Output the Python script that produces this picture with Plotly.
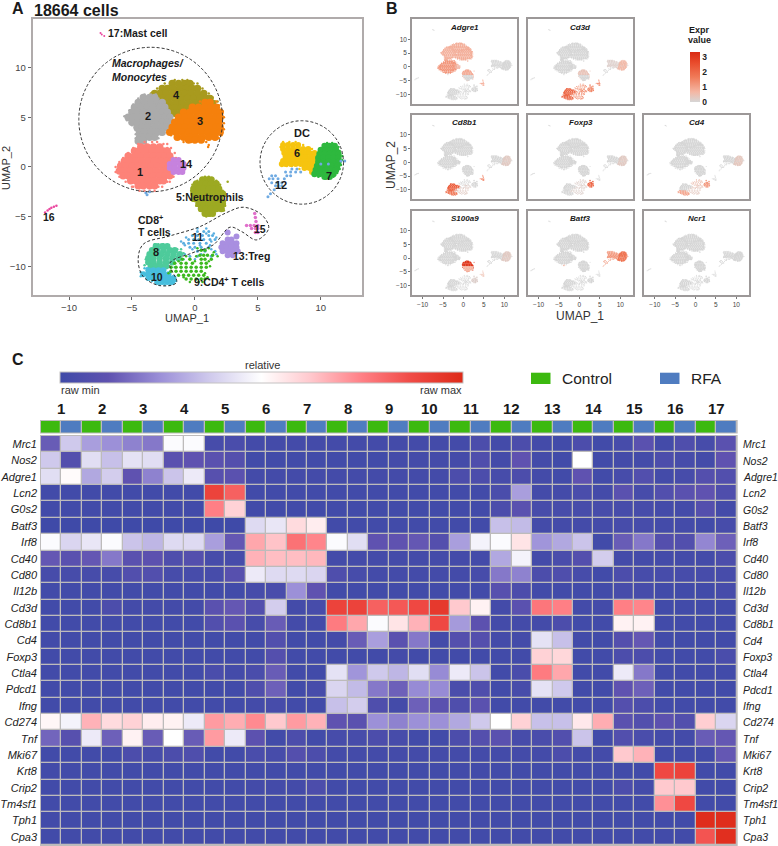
"""UMAP panels and marker gene heatmap."""
import plotly.graph_objects as go

W, H = 778, 846
FONT = "Liberation Sans"

# UMAP cells: {UMAP_2: [UMAP_1, ...]}
CL4 = {8.4: [-1.8, -1.3, -0.8, -0.4], 7.9: [-2.6, -2.2, -1.7, -1.2, -0.7, -0.2, 0.2],
       7.4: [-3.2, -2.8, -2.3, -1.8, -1.3, -0.8, -0.3, 0.2, 0.7],
       6.9: [-3.5, -3.1, -2.6, -2.1, -1.6, -1.1, -0.6, -0.1, 0.4, 0.9, 1.2],
       6.4: [-2.5, -2.0, -1.5, -1.0, -0.5, 0.0, 0.5, 1.0, 1.4], 5.9: [-2.1, -1.6, -1.1, -0.6, -0.2],
       5.4: [-2.0, -1.6, -1.2]}
CL2 = {7.0: [-4.1, -3.6, -3.2], 6.5: [-4.5, -4.0, -3.5, -3.0, -2.6], 6.0: [-4.8, -4.3, -3.8, -3.3, -2.8, -2.4],
       5.5: [-5.0, -4.6, -4.1, -3.6, -3.1, -2.6, -2.2], 5.0: [-5.3, -4.9, -4.4, -3.9, -3.4, -2.9, -2.4, -2.0],
       4.5: [-5.0, -4.6, -4.1, -3.6, -3.1, -2.6, -2.2, -1.9], 4.0: [-4.6, -4.2, -3.7, -3.2, -2.7, -2.3],
       3.5: [-4.4, -4.0, -3.5, -3.0, -2.6], 3.0: [-4.4, -4.0, -3.6, -3.2], 2.6: [-4.5, -4.1]}
CL3 = {6.5: [0.8, 1.2], 6.0: [-0.2, 0.3, 0.8, 1.3, 1.7], 5.5: [-0.9, -0.4, 0.1, 0.6, 1.1, 1.6, 2.0],
       5.0: [-1.3, -0.8, -0.3, 0.2, 0.7, 1.2, 1.7, 2.0], 4.5: [-1.6, -1.1, -0.6, -0.1, 0.4, 0.9, 1.4, 1.9],
       4.0: [-1.8, -1.3, -0.8, -0.3, 0.2, 0.7, 1.2, 1.7, 2.0], 3.5: [-2.0, -1.5, -1.0, -0.5, 0.0, 0.5, 1.0, 1.5, 2.0],
       3.0: [-1.4, -0.9, -0.4, 0.1, 0.6, 1.1, 1.6], 2.7: [-0.5, 0.0, 0.5]}
CL1 = {2.0: [-4.3, -3.8, -3.3, -2.8], 1.6: [-4.8, -4.4, -3.9, -3.4, -2.9, -2.5, -2.2],
       1.1: [-5.3, -4.8, -4.3, -3.8, -3.3, -2.8, -2.4, -2.0], 0.6: [-5.6, -5.2, -4.7, -4.2, -3.7, -3.2, -2.7, -2.3, -1.9],
       0.1: [-5.9, -5.5, -5.0, -4.5, -4.0, -3.5, -3.0, -2.5, -2.1, -1.8],
       -0.4: [-6.0, -5.6, -5.1, -4.6, -4.1, -3.6, -3.1, -2.6, -2.2, -1.8],
       -0.9: [-5.7, -5.3, -4.8, -4.3, -3.8, -3.3, -2.8, -2.4, -2.0], -1.4: [-5.1, -4.7, -4.2, -3.7, -3.2, -2.8, -2.5],
       -1.9: [-4.5, -4.1, -3.6, -3.2]}
CL14 = {0.7: [-1.7, -1.3], 0.3: [-2.0, -1.6, -1.2, -0.9], -0.1: [-2.0, -1.6, -1.2, -0.9], -0.5: [-1.7, -1.3, -1.0]}
CL5A = {-1.3: [0.6, 1.0, 1.3], -1.7: [0.1, 0.5, 0.9, 1.3, 1.7], -2.2: [-0.1, 0.3, 0.7, 1.1, 1.5, 1.9],
        -2.7: [-0.1, 0.3, 0.7, 1.1, 1.5, 1.9, 2.2]}
CL5B = {-3.2: [0.0, 0.4, 0.8, 1.2, 1.6, 2.0], -3.7: [0.3, 0.7, 1.1, 1.5, 1.9, 2.2],
        -4.2: [0.5, 0.9, 1.3, 1.7, 2.1], -4.7: [0.8, 1.1, 1.4]}
CL6 = {2.2: [7.0, 7.4, 7.8, 8.2], 1.8: [7.0, 7.4, 7.8, 8.2, 8.6, 9.0], 1.4: [7.1, 7.5, 7.9, 8.3, 8.7, 9.1, 9.5, 10.0],
       1.0: [7.2, 7.6, 8.0, 8.4, 8.8, 9.2, 9.6, 10.0], 0.6: [7.0, 7.4, 7.8, 8.2, 8.6, 9.0, 9.4, 9.8],
       0.3: [6.9, 7.2, 7.6, 8.0, 8.4, 8.8, 9.2, 9.6], -0.1: [8.7, 9.1, 9.5], -0.5: [9.3, 9.7]}
CL7 = {2.1: [10.3, 10.7, 11.1], 1.7: [10.0, 10.4, 10.8, 11.2], 1.3: [9.9, 10.3, 10.7, 11.1, 11.4],
       0.9: [9.8, 10.2, 10.6, 11.0, 11.4], 0.5: [9.8, 10.2, 10.6, 11.0, 11.4], 0.1: [9.7, 10.1, 10.5, 10.9, 11.3],
       -0.3: [9.6, 10.0, 10.4, 10.8, 11.2], -0.7: [9.5, 9.9, 10.3, 10.7, 11.0], -1.0: [10.3, 10.7]}
CL12 = {-3.0: [5.8], -2.7: [6.0], -2.3: [6.3], -1.9: [6.4, 6.6, 6.9], -1.6: [6.1, 6.5, 6.9],
        -1.2: [5.9, 6.2, 6.6, 7.1], -0.9: [6.1, 6.4, 7.3, 7.6], -0.5: [7.2, 7.6, 8.0, 8.4], -0.2: [7.7, 8.1],
        0.3: [10.0, 10.6], 0.6: [11.6, 11.9], -2.5: [-3.6], -2.6: [-3.9], -2.8: [-3.8]}
CL16 = {-4.6: [-11.9], -4.4: [-11.7], -4.25: [-11.55], -4.1: [-11.4], -4.0: [-11.2], -3.9: [-11.0]}
CL17 = {13.5: [-7.5], 13.35: [-7.4], 13.2: [-7.2]}
CL15 = {-4.7: [4.75], -5.1: [4.8], -5.5: [4.85], -5.9: [4.1, 4.4, 4.7, 5.0], -6.2: [4.5, 4.8, 5.0], -6.6: [4.8, 5.0]}
CL13 = {-6.6: [2.6], -7.0: [3.3], -7.3: [2.6, 2.9], -7.7: [2.2, 2.6, 3.0, 3.3], -8.1: [2.1, 2.5, 2.9, 3.3],
        -8.5: [2.2, 2.6, 3.0, 3.4], -8.9: [2.6, 3.0]}
CL11 = {-6.5: [0.2, 0.7, 1.1], -6.9: [-0.2, 0.2, 0.6, 1.1, 1.4], -7.3: [-0.5, -0.1, 0.3, 0.7, 1.2, 1.6],
        -7.7: [-0.9, -0.5, -0.1, 0.4, 0.9], -8.1: [-0.4, 0.0, 0.5, 1.1], -8.5: [0.2, 0.8, 1.6], -9.0: [-0.4, 0.2, 1.3]}
CL8 = {-8.0: [-3.1, -2.6, -2.2], -8.4: [-3.4, -3.0, -2.5, -2.0, -1.6], -8.8: [-3.6, -3.2, -2.7, -2.2, -1.7, -1.2],
       -9.2: [-3.7, -3.3, -2.8, -2.3, -1.8, -1.3], -9.6: [-3.7, -3.3, -2.8, -2.3, -1.8],
       -10.0: [-3.5, -3.1, -2.7, -2.3], -10.3: [-3.3, -2.9]}
CL10 = {-10.4: [-3.7, -3.3, -2.9, -2.5], -10.8: [-4.1, -3.7, -3.3, -2.9, -2.5, -2.1],
        -11.2: [-3.7, -3.3, -2.9, -2.5, -2.1, -1.7], -11.6: [-3.0, -2.6, -2.2, -1.8]}
CL9 = {-8.4: [0.5, 0.8], -8.9: [0.4, 0.7, 1.0, 1.4], -9.3: [-1.0, -0.4, 0.5, 0.8, 1.3],
       -9.7: [-1.6, -1.1, -0.7, -0.2, 0.5, 0.9], -10.1: [-1.9, -1.5, -1.1, -0.7, -0.3, 0.1, 0.5, 0.9],
       -10.5: [-1.9, -1.5, -1.1, -0.7, -0.3, 0.1, 0.5], -10.9: [-1.3, -0.9, -0.5, -0.1, 0.3, 0.7],
       -11.3: [-0.7, -0.3, 0.1, 0.5, 0.8]}

# loose cells along the cluster edges
F1 = {2.5: [-4.0, -3.4, -3.0], 2.3: [-4.5, -2.5, -2.2], 1.9: [-4.9, -2.2, -1.9], 1.4: [-5.3, -2.0, -1.6],
      0.9: [-5.7, -1.7, -1.5], 0.5: [-6.0, -1.6], 0.0: [-6.3, -1.5], -0.5: [-6.3, -1.5], -1.0: [-6.0, -1.7],
      -1.5: [-5.5, -2.2, -2.0], -2.0: [-5.0, -4.9, -2.9, -2.6], -2.4: [-4.4, -4.0, -3.6, -3.2]}
F2 = {7.3: [-4.0, -3.5, -3.1], 6.9: [-4.5, -2.9], 6.3: [-4.9], 5.7: [-5.2], 5.1: [-5.6], 4.7: [-5.4], 4.2: [-5.0],
      3.7: [-4.7], 3.3: [-4.7, -2.7], 2.9: [-4.7, -2.9], 2.4: [-4.6, -4.2, -3.9]}
F4 = {8.75: [-1.6, -1.0, -0.6], 8.4: [-2.4, -0.1, 0.2], 7.9: [-3.0, 0.6], 7.4: [-3.5, 1.1], 7.0: [-3.8, 1.4],
      6.6: [1.6, 1.8], 6.2: [1.6]}
F3 = {6.6: [0.4, 1.7], 6.2: [1.9], 5.6: [2.2], 5.0: [2.3], 4.4: [2.3], 3.8: [2.3], 3.2: [2.1, -1.9],
      2.9: [-1.5, 1.9], 2.5: [-0.9, -0.3, 0.4, 0.9], 2.2: [1.1], 2.0: [1.05]}
F5 = {-1.0: [0.8, 1.1], -1.4: [0.2, 1.7], -1.8: [-0.2, 2.0], -2.4: [-0.3, 2.2], -2.9: [2.4], -3.4: [-0.2, 2.4],
      -3.9: [0.1, 2.4], -4.4: [0.4, 2.3], -4.9: [0.9, 1.2], -5.0: [0.9], -1.5: [2.6]}
F6 = {2.5: [7.0, 7.5, 8.0], 2.2: [8.6], 1.8: [9.3], 2.0: [6.8], 0.1: [6.9, 7.3, 7.7], 0.2: [8.7], -0.2: [8.3],
      -0.7: [9.5, 9.8], 1.6: [9.9]}
F7 = {2.4: [10.5, 10.9], 2.0: [11.4], 1.6: [11.5], 1.1: [11.7], 0.7: [11.7], 0.2: [11.6], -0.2: [11.5], -0.6: [11.3],
      -1.0: [9.8, 11.0], -1.2: [10.4]}
F8 = {-7.8: [-3.2, -2.9, -2.5], -8.3: [-1.4, -1.1], -8.7: [-0.9], -9.3: [-3.9, -0.9], -9.9: [-4.0], -10.1: [-1.9, -1.6]}
F10 = {-10.2: [-4.0, -3.8], -10.6: [-4.3], -11.0: [-4.3, -1.7], -11.5: [-3.4, -1.5], -11.9: [-2.8, -2.4, -2.0]}
F9 = {-8.2: [0.2, 1.1], -8.6: [1.5], -9.0: [-0.7, 0.1, 1.8], -9.5: [-1.3, 0.0, 1.1], -10.0: [1.2], -10.7: [0.8, -2.1],
      -11.1: [-0.9, 1.0], -11.6: [-0.4, 0.3, 0.6]}
F11 = {-6.2: [0.2, 0.9], -6.7: [0.9, 1.5], -7.1: [-0.7, 1.7], -7.5: [-1.1, 1.3], -7.9: [0.4, -0.8, 1.2],
       -8.3: [0.8, 1.3, -0.2], -8.8: [-0.8, 0.5, 1.7], -9.3: [0.0]}

# name, cells, colour, marker size in panel A
CLUSTERS = [
    ("4", F4, "#A89A1E", 2.5), ("4", CL4, "#A89A1E", 7.5), ("2", F2, "#ABABAB", 2.5), ("2", CL2, "#ABABAB", 7.5),
    ("3", F3, "#F5800C", 2.5), ("3", CL3, "#F5800C", 7.5), ("1", F1, "#FD8278", 2.5), ("1", CL1, "#FD8278", 7.5),
    ("14", CL14, "#C682DE", 6), ("5a", F5, "#9CA922", 2.5), ("5a", CL5A, "#9CA922", 7), ("5b", CL5B, "#9CA922", 7),
    ("6", F6, "#F6C40F", 2.5), ("6", CL6, "#F6C40F", 6), ("7", F7, "#2EB83E", 2.5), ("7", CL7, "#2EB83E", 6.5),
    ("12", CL12, "#6FAAE2", 3), ("16", CL16, "#EA479F", 2.5), ("17", CL17, "#EA479F", 2),
    ("15", CL15, "#E070CB", 3.5), ("13", CL13, "#A98FE0", 6), ("11", F11, "#5AAEE0", 2.5), ("11", CL11, "#5AAEE0", 3),
    ("8", F8, "#4ECB9B", 2.5), ("8", CL8, "#4ECB9B", 6.5), ("10", F10, "#47BEDD", 2.5), ("10", CL10, "#47BEDD", 6),
    ("9", F9, "#3CBA1E", 2.5), ("9", CL9, "#3CBA1E", 3.5),
]

# expression level per cluster in the feature panels, missing clusters are 0
ADGRE1 = {"1": 1.2, "2": 0.75, "3": 0.8, "4": 0.8, "14": 0.6, "5a": 0.9, "15": 1.2}
CD3D = {"8": 2.0, "10": 2.1, "9": 1.6, "11": 1.3, "13": 1.4, "15": 1.9, "6": 0.15, "7": 0.6, "5a": 0.4}
CD8B1 = {"8": 2.2, "10": 1.8, "9": 0.25, "15": 1.8, "7": 0.25}
FOXP3 = {"13": 2.1, "9": 0.15, "7": 0.25, "11": 0.15}
CD4 = {"13": 1.2, "9": 0.3, "10": 1.0, "7": 0.3, "11": 0.5}
S100A9 = {"5a": 3.0, "5b": 0.7, "15": 0.5, "7": 0.25, "13": 0.15}
BATF3 = {"6": 1.2, "7": 1.8, "12": 0.8}
NCR1 = {}
# title, values, column, row
FEATURES = [("Adgre1", ADGRE1, 0, 0), ("Cd3d", CD3D, 1, 0), ("Cd8b1", CD8B1, 0, 1), ("Foxp3", FOXP3, 1, 1),
            ("Cd4", CD4, 2, 1), ("S100a9", S100A9, 0, 2), ("Batf3", BATF3, 1, 2), ("Ncr1", NCR1, 2, 2)]

# group outline around the T cells
OUTLINE_X = [-4.51, -4.11, -1.99, 0.40, 2.52, 3.85, 5.31, 5.86, 4.91, 3.71, 2.79, 1.46, -0.27, -1.99, -1.46, -2.79, -4.11, -4.51]
OUTLINE_Y = [-9.36, -7.79, -6.95, -6.01, -4.60, -4.06, -4.83, -6.17, -7.35, -6.51, -6.07, -7.85, -8.69, -9.70, -11.64, -11.95, -11.04, -9.36]

# heatmap, relative 0-1, two columns per cluster (Control, RFA)
CLUSTER_IDS = [str(i) for i in range(1, 18)]
GENES = ["Mrc1", "Nos2", "Adgre1", "Lcn2", "G0s2", "Batf3", "Irf8", "Cd40", "Cd80", "Il12b", "Cd3d", "Cd8b1", "Cd4",
         "Foxp3", "Ctla4", "Pdcd1", "Ifng", "Cd274", "Tnf", "Mki67", "Krt8", "Crip2", "Tm4sf1", "Tph1", "Cpa3"]
Z = [
    [.14, .37, .28, .25, .22, .2, .49, .49, .03, .04, .02, .02, .02, .02, .02, .02, .02, .02, .02, .02, .02, .05, .02, .05, .02, .01, .05, .01, .03, .1, .02, .06, .03, .1],
    [.37, .08, .42, .35, .43, .42, .1, .12, .1, .08, .01, .01, .01, .01, .01, .01, .01, .02, .02, .02, .02, .06, .02, .12, .02, .01, .5, .01, .02, .02, .05, .03, .02, .12],
    [.42, .51, .3, .38, .12, .22, .36, .45, .09, .1, .02, .02, .02, .02, .02, .02, .02, .02, .02, .02, .05, .05, .03, .05, .02, .01, .12, .01, .03, .07, .02, .03, .08, .07],
    [.01, .01, .01, .01, .01, .01, .01, .01, .9, .82, .01, .01, .01, .01, .01, .01, .01, .01, .01, .01, .01, .01, .04, .28, .02, .02, .04, .02, .1, .03, .07, .1, .12, .06],
    [.01, .01, .01, .01, .01, .01, .01, .01, .75, .6, .01, .01, .01, .01, .01, .01, .01, .01, .01, .01, .01, .01, .05, .1, .03, .03, .03, .03, .03, .03, .02, .02, .08, .02],
    [0, 0, 0, 0, 0, 0, 0, 0, 0, 0, .41, .44, .58, .54, .01, .01, .01, .01, .01, .01, .01, .01, .35, .34, .02, .02, .02, .02, .03, .03, .02, .02, .01, .03],
    [.49, .4, .44, .49, .36, .33, .41, .41, .28, .13, .68, .63, .78, .74, .49, .42, .12, .12, .13, .08, .28, .47, .49, .56, .26, .3, .36, .01, .14, .2, .08, .07, .23, .15],
    [.13, .1, .13, .2, .1, .11, .06, .08, .03, .03, .66, .64, .64, .65, .02, .02, .02, .02, .02, .02, .02, .02, .3, .47, .02, .04, .08, .38, .02, .02, .02, .02, .02, .05],
    [.03, .03, .03, .03, .07, .07, .03, .03, .03, .09, .45, .41, .41, .4, .06, .03, .02, .02, .02, .02, .02, .03, .2, .22, .05, .06, .03, .01, .05, .03, .03, .03, .03, .03],
    [.01, .01, .01, .01, .01, .01, .01, .01, .01, .01, .03, .04, .25, .12, .01, .01, .01, .01, .01, .01, .01, .01, .09, .05, .01, .01, .01, .01, .03, .03, .01, .01, .01, .03],
    [.01, .01, .01, .05, .02, .02, .02, .02, .1, .13, .07, .38, .02, .03, .9, .9, .82, .84, .88, .94, .62, .53, .02, .1, .77, .75, .02, .02, .75, .74, .01, .01, .01, .01],
    [.01, .01, .01, .01, .01, .01, .01, .01, .07, .1, .03, .14, .02, .02, .76, .68, .49, .56, .66, .88, .27, .11, .02, .02, .02, .05, .01, .01, .53, .53, .01, .01, .01, .01],
    [.01, .01, .01, .01, .01, .01, .01, .01, .01, .01, .01, .07, .01, .01, .02, .14, .28, .1, .2, .02, .08, .08, .02, .02, .43, .35, .01, .01, .08, .13, .01, .01, .01, .01],
    [.01, .01, .01, .01, .01, .01, .01, .01, .01, .01, .01, .08, .01, .01, .01, .01, .01, .02, .01, .01, .01, .01, .01, .01, .6, .59, .01, .01, .05, .05, .01, .01, .01, .04],
    [.01, .01, .01, .01, .01, .01, .01, .01, .04, .02, .04, .14, .01, .01, .43, .26, .37, .33, .42, .24, .45, .36, .01, .04, .76, .68, .01, .01, .45, .2, .01, .01, .01, .01],
    [.01, .01, .01, .01, .01, .01, .01, .01, .01, .01, .06, .15, .01, .03, .4, .34, .2, .15, .24, .24, .04, .06, .01, .03, .43, .37, .01, .01, .12, .15, .01, .01, .01, .01],
    [.01, .01, .01, .01, .01, .01, .01, .01, .01, .01, .02, .03, .01, .01, .35, .38, .06, .02, .15, .1, .06, .1, .01, .01, .01, .01, .01, .01, .08, .05, .01, .01, .01, .01],
    [.52, .47, .66, .58, .6, .54, .53, .45, .7, .67, .73, .62, .7, .66, .12, .1, .25, .22, .25, .25, .3, .37, .5, .6, .35, .35, .55, .67, .1, .07, .11, .07, .61, .4],
    [.16, .09, .45, .15, .53, .14, .5, .14, .7, .45, .11, .01, .05, .01, .03, .03, .05, .03, .01, .01, .05, .08, .1, .03, .04, .07, .36, .01, .07, .04, .02, .02, .14, .13],
    [.01, .01, .01, .01, .05, .03, .05, .06, .01, .01, .04, .03, .08, .05, .02, .02, .02, .02, .02, .02, .02, .02, .02, .02, .02, .05, .02, .02, .62, .66, .01, .01, .01, .13],
    [.01, .01, .01, .01, .01, .01, .01, .01, .01, .01, .01, .01, .01, .01, .01, .01, .01, .01, .01, .01, .01, .01, .01, .01, .01, .01, .01, .01, .01, .01, .88, .9, .01, .01],
    [.01, .01, .01, .01, .01, .01, .01, .01, .01, .01, .02, .02, .02, .05, .01, .01, .01, .01, .01, .01, .01, .01, .01, .01, .01, .01, .01, .01, .05, .02, .62, .62, .01, .01],
    [.01, .01, .01, .01, .01, .01, .01, .01, .01, .01, .01, .01, .01, .01, .01, .01, .01, .01, .01, .01, .01, .01, .01, .01, .01, .01, .01, .01, .01, .01, .72, .88, .01, .01],
    [.01, .01, .01, .01, .01, .01, .01, .01, .01, .01, .01, .01, .01, .01, .01, .01, .01, .01, .01, .01, .01, .01, .01, .01, .01, .01, .01, .01, .01, .01, .01, .01, .99, .99],
    [.01, .01, .01, .01, .01, .01, .01, .01, .01, .01, .01, .01, .01, .01, .01, .01, .01, .01, .01, .01, .01, .01, .01, .01, .01, .01, .01, .01, .01, .01, .01, .01, .85, .98],
]
GROUP_STRIP = [[0, 1] * 17]

HEAT_SCALE = [[0, "#3F4AA8"], [0.12, "#5F52B0"], [0.25, "#9C90D8"], [0.37, "#CFC9EC"], [0.5, "#FFFFFF"],
              [0.62, "#FFC9CE"], [0.75, "#FF7F85"], [0.87, "#F04B46"], [1, "#DE2A18"]]
EXPR_SCALE = [[0, "#D6D6D6"], [0.2, "#F4B7A4"], [0.5, "#F07A58"], [0.8, "#E8492A"], [1, "#D92B14"]]


def xdom(a, b):
    return [a / W, b / W]


def ydom(top, bottom):
    return [1 - bottom / H, 1 - top / H]


def label(px, py, text, size=10.5, bold=True, anchor="center", angle=0, color="#1a1a1a"):
    """Text placed by pixel position on the page."""
    if bold:
        text = "<b>" + text + "</b>"
    return dict(x=px / W, y=1 - py / H, xref="paper", yref="paper", text=text, showarrow=False, xanchor=anchor,
                yanchor="middle", textangle=angle, font=dict(family=FONT, size=size, color=color))


def cells(rows):
    xs, ys = [], []
    for y, row in rows.items():
        for x in row:
            xs.append(x)
            ys.append(y)
    return xs, ys


fig = go.Figure()
layout = dict(
    width=W, height=H, margin=dict(l=0, r=0, t=0, b=0), paper_bgcolor="white", plot_bgcolor="rgba(0,0,0,0)",
    showlegend=False, font=dict(family=FONT), hovermode=False,
)

# panel A
for name, rows, color, size in CLUSTERS:
    xs, ys = cells(rows)
    fig.add_trace(go.Scatter(x=xs, y=ys, mode="markers", marker=dict(color=color, size=size), xaxis="x", yaxis="y"))
fig.add_trace(go.Scatter(x=OUTLINE_X, y=OUTLINE_Y, mode="lines", xaxis="x", yaxis="y",
                         line=dict(color="#333333", width=1, dash="3px,2px", shape="spline")))
AXIS_LINE = dict(showline=True, mirror=True, linecolor="#B0ABAB", linewidth=1.5, showgrid=False, zeroline=False)
AXIS_LINE_B = dict(AXIS_LINE, linecolor="#9C9898")
layout["xaxis"] = dict(domain=xdom(32.5, 362), range=[-12.9, 13.27], tickvals=[-10, -5, 0, 5, 10], ticks="outside",
                       ticklen=3, tickcolor="#666666", tickfont=dict(size=9.5, color="#444444"), anchor="y", **AXIS_LINE)
layout["yaxis"] = dict(domain=ydom(19, 295), range=[-12.9, 14.9], tickvals=[-10, -5, 0, 5, 10], ticks="outside",
                       ticklen=3, tickcolor="#666666", tickfont=dict(size=9.5, color="#444444"), anchor="x", **AXIS_LINE)
CIRCLE = dict(type="circle", xref="x", yref="y", line=dict(color="#333333", width=1, dash="3px,2px"))
shapes = [dict(x0=-9.22, x1=2.2, y0=-2.5, y1=12.05, **CIRCLE), dict(x0=5.17, x1=11.8, y0=-3.75, y1=4.65, **CIRCLE)]

annotations = [
    label(18, 8, "A", 16), label(392, 8, "B", 16), label(18, 360, "C", 16),
    label(32, 10, "18664 cells", 16, anchor="left"),
    label(6, 168, "UMAP_2", 11, False, angle=-90, color="#333333"),
    label(187, 317.5, "UMAP_1", 11, False, color="#333333"),
    label(391, 165, "UMAP_2", 12, False, angle=-90, color="#333333"),
    label(580, 316, "UMAP_1", 12, False, color="#333333"),
    label(106, 33, "17:Mast cell", 10.5, anchor="left"),
    label(110, 63, "<i>Macrophages/</i>", 10.5, anchor="left"),
    label(110, 76.5, "<i>Monocytes</i>", 10.5, anchor="left"),
    label(176, 95, "4", 11), label(148, 116, "2", 11), label(199.5, 121, "3", 11), label(140, 172, "1", 11),
    label(186.5, 164, "14", 11), label(302, 133, "DC", 11), label(296.5, 153, "6", 11), label(329, 176, "7", 11),
    label(281, 185, "12", 11), label(174, 197, "5:Neutrophils", 10.5, anchor="left"), label(49, 217, "16", 10.5),
    label(136, 219, "CD8<sup>+</sup>", 10.5, anchor="left"), label(136, 232, "T cells", 10.5, anchor="left"),
    label(260, 229, "15", 10.5), label(197, 237, "11", 10.5), label(156, 252, "8", 11),
    label(231, 256, "13:Treg", 10.5, anchor="left"), label(157, 277, "10", 10.5),
    label(192, 282, "9:CD4<sup>+</sup> T cells", 10.5, anchor="left"),
    label(699, 30, "Expr", 9), label(699, 39.5, "value", 9),
]

# panel B
COL_X = [(412, 517.3), (528, 633.3), (644.3, 749.3)]
ROW_Y = [(19.3, 104), (115, 199.3), (210.7, 295)]
for i, (gene, levels, col, row) in enumerate(FEATURES):
    n = i + 2
    for name, rows, color, size in CLUSTERS:
        xs, ys = cells(rows)
        fig.add_trace(go.Scatter(x=xs, y=ys, mode="markers", xaxis=f"x{n}", yaxis=f"y{n}",
                                 marker=dict(color=[levels.get(name, 0)] * len(xs), size=max(size * 0.27, 1.0),
                                             coloraxis="coloraxis2")))
    on_left, on_bottom = col == 0, row == 2
    layout[f"xaxis{n}"] = dict(domain=xdom(*COL_X[col]), range=[-12.6, 13.2], anchor=f"y{n}",
                               tickvals=[-10, -5, 0, 5, 10] if on_bottom else [], ticks="outside" if on_bottom else "",
                               ticklen=2, tickcolor="#777777", tickfont=dict(size=6.5, color="#444444"), **AXIS_LINE_B)
    layout[f"yaxis{n}"] = dict(domain=ydom(*ROW_Y[row]), range=[-13.4, 17.2], anchor=f"x{n}",
                               tickvals=[-10, -5, 0, 5, 10] if on_left else [], ticks="outside" if on_left else "",
                               ticklen=2, tickcolor="#777777", tickfont=dict(size=6.5, color="#444444"), **AXIS_LINE_B)
    annotations.append(label(sum(COL_X[col]) / 2, ROW_Y[row][0] + 8, f"<i>{gene}</i>", 8))

# panel C
HX0, HX1 = 41, 736.7
HY0, HY1 = 436, 845
shapes.append(dict(type="rect", xref="paper", yref="paper", x0=(HX0 - 1) / W, x1=(HX1 + 1) / W, y0=1 - (HY1 + 1) / H,
                   y1=1 - (HY0 - 1) / H, fillcolor="#BDBBBB", line=dict(width=0), layer="below"))
shapes.append(dict(type="rect", xref="paper", yref="paper", x0=(HX0 - 1) / W, x1=(HX1 + 1) / W, y0=1 - 433.5 / H,
                   y1=1 - 420 / H, fillcolor="#BDBBBB", line=dict(width=0), layer="below"))
fig.add_trace(go.Heatmap(z=Z, x=list(range(34)), y=GENES, xgap=1.3, ygap=1.3, coloraxis="coloraxis",
                         xaxis="x10", yaxis="y10"))
layout["xaxis10"] = dict(domain=xdom(HX0, HX1), range=[-0.5, 33.5], visible=False, anchor="y10")
layout["yaxis10"] = dict(domain=ydom(HY0, HY1), autorange="reversed", anchor="x10", showgrid=False, zeroline=False,
                         showline=False, ticks="", ticklabelstandoff=3,
                         tickfont=dict(size=11, style="italic", color="#222222"))
fig.add_trace(go.Heatmap(z=GROUP_STRIP, xgap=1.3, zmin=0, zmax=1, showscale=False, xaxis="x11", yaxis="y11",
                         colorscale=[[0, "#3CB90F"], [1, "#4F7CC0"]]))
layout["xaxis11"] = dict(domain=xdom(HX0, HX1), range=[-0.5, 33.5], visible=False, anchor="y11")
layout["yaxis11"] = dict(domain=ydom(421, 432.5), visible=False, anchor="x11")

for gene, row in zip(GENES, range(len(GENES))):
    annotations.append(label(740.5, HY0 + (row + 0.5) * (HY1 - HY0) / 25, f"<i>{gene}</i>", 10.5, False,
                             anchor="left", color="#222222"))
for k, cid in enumerate(CLUSTER_IDS):
    annotations.append(label(HX0 + (k + 0.5) * (HX1 - HX0) / 17, 408, cid, 15))
annotations += [
    label(262, 365, "relative", 11, False, color="#333333"),
    label(59, 390, "raw min", 11, False, anchor="left", color="#333333"),
    label(464, 390, "raw max", 11, False, anchor="right", color="#333333"),
    label(560, 378, "Control", 15.5, False, anchor="left", color="#222222"),
    label(689, 378, "RFA", 15.5, False, anchor="left", color="#222222"),
]
for x0, color in ((531, "#3CB90F"), (660, "#4F7CC0")):
    shapes.append(dict(type="rect", xref="paper", yref="paper", x0=x0 / W, x1=(x0 + 19.5) / W, y0=1 - 384 / H,
                       y1=1 - 372.7 / H, fillcolor=color, line=dict(width=0)))

layout["coloraxis"] = dict(
    colorscale=HEAT_SCALE, cmin=0, cmax=1,
    colorbar=dict(orientation="h", x=60 / W, xanchor="left", y=1 - 383.5 / H, yanchor="bottom", len=403, lenmode="pixels",
                  thickness=10.5, thicknessmode="pixels", xpad=0, ypad=0, showticklabels=False, ticks="",
                  outlinecolor="#C4C2C2", outlinewidth=1),
)
layout["coloraxis2"] = dict(
    colorscale=EXPR_SCALE, cmin=0, cmax=3.3,
    colorbar=dict(x=690 / W, xanchor="left", y=1 - 102 / H, yanchor="bottom", len=50, lenmode="pixels", thickness=10,
                  thicknessmode="pixels", xpad=0, ypad=0, tickvals=[0, 1, 2, 3], ticks="", outlinewidth=0,
                  tickfont=dict(size=8.5, color="#222222", weight="bold")),
)
layout["shapes"] = shapes
layout["annotations"] = annotations
fig.update_layout(**layout)
fig.write_html("out.html", post_script="document.body.style.margin='0';", config=dict(displayModeBar=False))
